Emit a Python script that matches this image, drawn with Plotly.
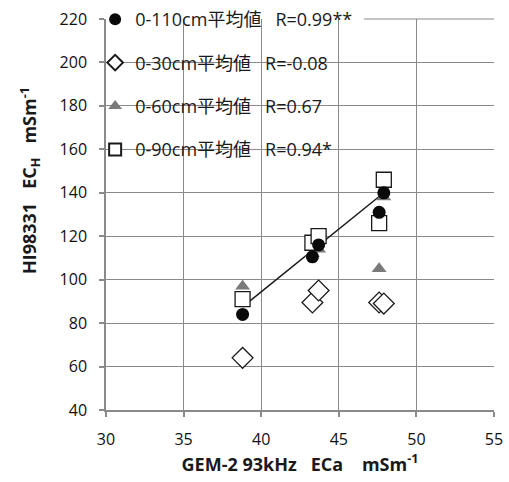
import plotly.graph_objects as go

# Data
x_vals = [38.8, 43.3, 43.7, 47.6, 47.9]
y_110 = [84, 110.5, 116, 131, 140]
y_30 = [64, 89.5, 95, 89.5, 89]
y_60 = [97, 112, 114, 105, 138]
y_90 = [91, 117, 120, 126, 146]
trend_x = [38.8, 47.9]
trend_y = [87.5, 140]

sp3 = "\u00a0" * 3
names = [
    "0-110cm平均値" + sp3 + "R=0.99**",
    "0-30cm平均値" + sp3 + "R=-0.08",
    "0-60cm平均値" + sp3 + "R=0.67",
    "0-90cm平均値" + sp3 + "R=0.94*",
]

fig = go.Figure()

fig.add_trace(go.Scatter(x=trend_x, y=trend_y, mode="lines",
                         line=dict(color="#1a1a1a", width=1.5), showlegend=False))
fig.add_trace(go.Scatter(x=x_vals, y=y_30, mode="markers", name=names[1], legendgroup="b",
                         legendrank=2,
                         marker=dict(symbol="diamond", size=16, color="white",
                                     line=dict(color="#1a1a1a", width=1.3))))
fig.add_trace(go.Scatter(x=x_vals, y=y_60, mode="markers", name=names[2], legendgroup="c",
                         legendrank=3,
                         marker=dict(symbol="triangle-up", size=13, color="#7a7a7a",
                                     line=dict(width=0))))
fig.add_trace(go.Scatter(x=x_vals, y=y_90, mode="markers", name=names[3], legendgroup="d",
                         legendrank=4,
                         marker=dict(symbol="square", size=15, color="white",
                                     line=dict(color="#1a1a1a", width=1.3))))
fig.add_trace(go.Scatter(x=x_vals, y=y_110, mode="markers", name=names[0], legendgroup="a",
                         legendrank=1,
                         marker=dict(symbol="circle", size=13, color="#0a0a0a",
                                     line=dict(width=0))))

axis_common = dict(
    showgrid=True, gridcolor="#8a8a8a", gridwidth=1.2,
    showline=True, linecolor="#8a8a8a", linewidth=1.5,
    ticks="outside", ticklen=5, tickcolor="#8a8a8a", tickwidth=1.5,
    tickfont=dict(family="Open Sans", size=16, color="#111111"),
    zeroline=False,
)

title_font = dict(family="Open Sans", size=18, color="#1a1a1a")

fig.update_layout(
    width=509, height=482,
    margin=dict(l=106, r=15, t=19, b=72, autoexpand=False),
    plot_bgcolor="white", paper_bgcolor="white",
    xaxis=dict(range=[30, 55], dtick=5, ticklabelstandoff=9, **axis_common,
               title=dict(text="<b>GEM-2 93kHz" + sp3 + "ECa" + "\u00a0" * 4 +
                               "mSm<sup>-1</sup></b>",
                          font=title_font, standoff=9)),
    yaxis=dict(range=[40, 220], dtick=20, ticklabelstandoff=9, **axis_common),
    legend=dict(x=-0.028, y=1.046, xanchor="left", yanchor="top",
                bgcolor="rgba(0,0,0,0)", traceorder="grouped", tracegroupgap=17,
                itemsizing="constant",
                font=dict(family="Open Sans, Noto Sans CJK JP", size=18, color="#1a1a1a")),
    annotations=[dict(text="<b>HI98331" + sp3 + "EC<sub>H</sub>" + sp3 +
                           "mSm<sup>-1</sup></b>",
                      xref="paper", yref="paper", x=-0.196, y=0.588,
                      xanchor="center", yanchor="middle", textangle=-90,
                      showarrow=False, font=title_font)],
    shapes=[
        dict(type="rect", xref="paper", yref="paper", x0=0.004, x1=0.665,
             y0=0.563, y1=1.03, fillcolor="white", line=dict(width=0),
             layer="between"),
        dict(type="line", xref="paper", yref="paper", x0=0.665, x1=1,
             y0=1, y1=1, line=dict(color="#8a8a8a", width=1.2), layer="between"),
    ],
)

fig.write_html("out.html")
